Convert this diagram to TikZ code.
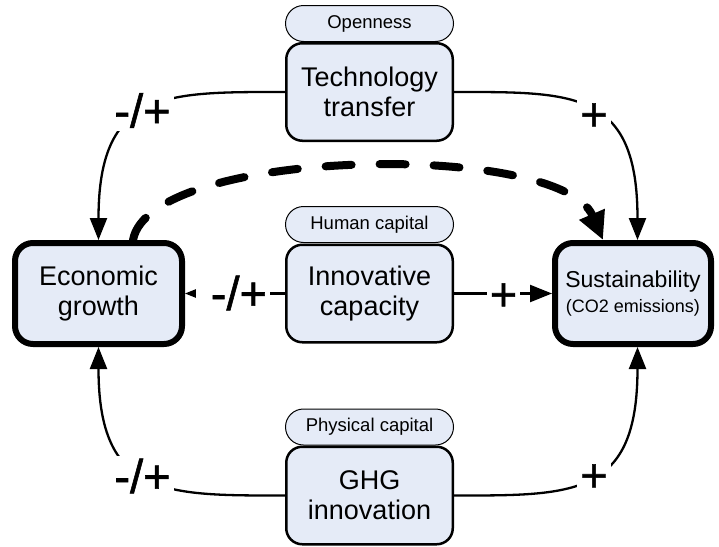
\documentclass[tikz,border=0pt]{standalone}
\usepackage{fontspec}
\setmainfont{Liberation Sans}
\newfontfamily\signfont[FakeBold=1.2]{Liberation Sans}
\usetikzlibrary{arrows.meta}
\definecolor{boxfill}{RGB}{229,235,247}
\begin{document}
\begin{tikzpicture}[x=1pt,y=-1pt,
  factor/.style={draw, line width=2.5pt, fill=boxfill, rounded corners=16pt,
    minimum width=166.5pt, minimum height=97.5pt, inner sep=0pt, align=center,
    font=\fontsize{27}{30}\selectfont},
  outcome/.style={draw, line width=6pt, fill=boxfill, rounded corners=18pt,
    minimum height=101pt, inner sep=0pt, align=center,
    font=\fontsize{27}{30}\selectfont},
  driver/.style={draw, line width=1pt, fill=boxfill, rounded corners=18pt,
    minimum width=168pt, minimum height=36pt, inner sep=0pt,
    font=\fontsize{18.5}{21}\selectfont},
  conn/.style={line width=2.3pt, -{Triangle[length=22pt,width=17pt]}},
  sign/.style={fill=white, inner sep=3pt, font=\signfont\fontsize{47}{50}\selectfont},
  shortcut/.style={line width=8pt, dash pattern=on 26pt off 28pt, line cap=round,
    -{Triangle[length=28pt,width=26pt]}}]
\useasboundingbox (0,0) rectangle (719,546);

% channels in the middle column, each with its driver on top
\node[driver] (open)  at (369.5,23.5) {Openness};
\node[factor] (tech)  at (369.5,92)   {Technology\\transfer};
\node[driver] (human) at (369.5,224.5) {Human capital};
\node[factor] (innov) at (369.5,293.5) {Innovative\\capacity};
\node[driver] (phys)  at (369.5,427)  {Physical capital};
\node[factor] (ghg)   at (369.5,495.5) {GHG\\innovation};

% outcomes
\node[outcome, minimum width=167pt] (econ) at (98.5,293.5) {Economic\\growth};
\node[outcome, minimum width=156pt, font=\fontsize{18}{25}\selectfont] (sus) at (633,293.5)
  {{\fontsize{23}{25}\selectfont Sustainability}\\(CO2 emissions)};

% effects of each channel
\draw[conn] (tech.west) .. controls +(-120,0) and +(0,-150) .. (econ.north);
\draw[conn] (tech.east) .. controls +(120,0) and +(0,-150) .. ([xshift=4.5pt]sus.north);
\draw[conn] (ghg.west) .. controls +(-120,0) and +(0,150) .. (econ.south);
\draw[conn] (ghg.east) .. controls +(120,0) and +(0,150) .. ([xshift=4.5pt]sus.south);
\draw[conn] (innov.west) -- (econ.east);
\draw[conn] (innov.east) -- (sus.west);

% growth feeding back on sustainability
\draw[shortcut] ([xshift=34.5pt]econ.north) .. controls +(17,-93) and +(-43,-100) .. ([xshift=-30pt]sus.north);

% signs of the effects
\node[sign] (stl) at (142.5,110.5) {-/+};
\node[sign] (str) at (594,117) {+};
\node[sign, text width=68pt, align=right] (sml) at (233,293) {-/+};
\node[sign] (smr) at (503.5,297) {+};
\node[sign] (sbl) at (142.5,476) {-/+};
\node[sign] (sbr) at (594,478) {+};
\end{tikzpicture}
\end{document}
